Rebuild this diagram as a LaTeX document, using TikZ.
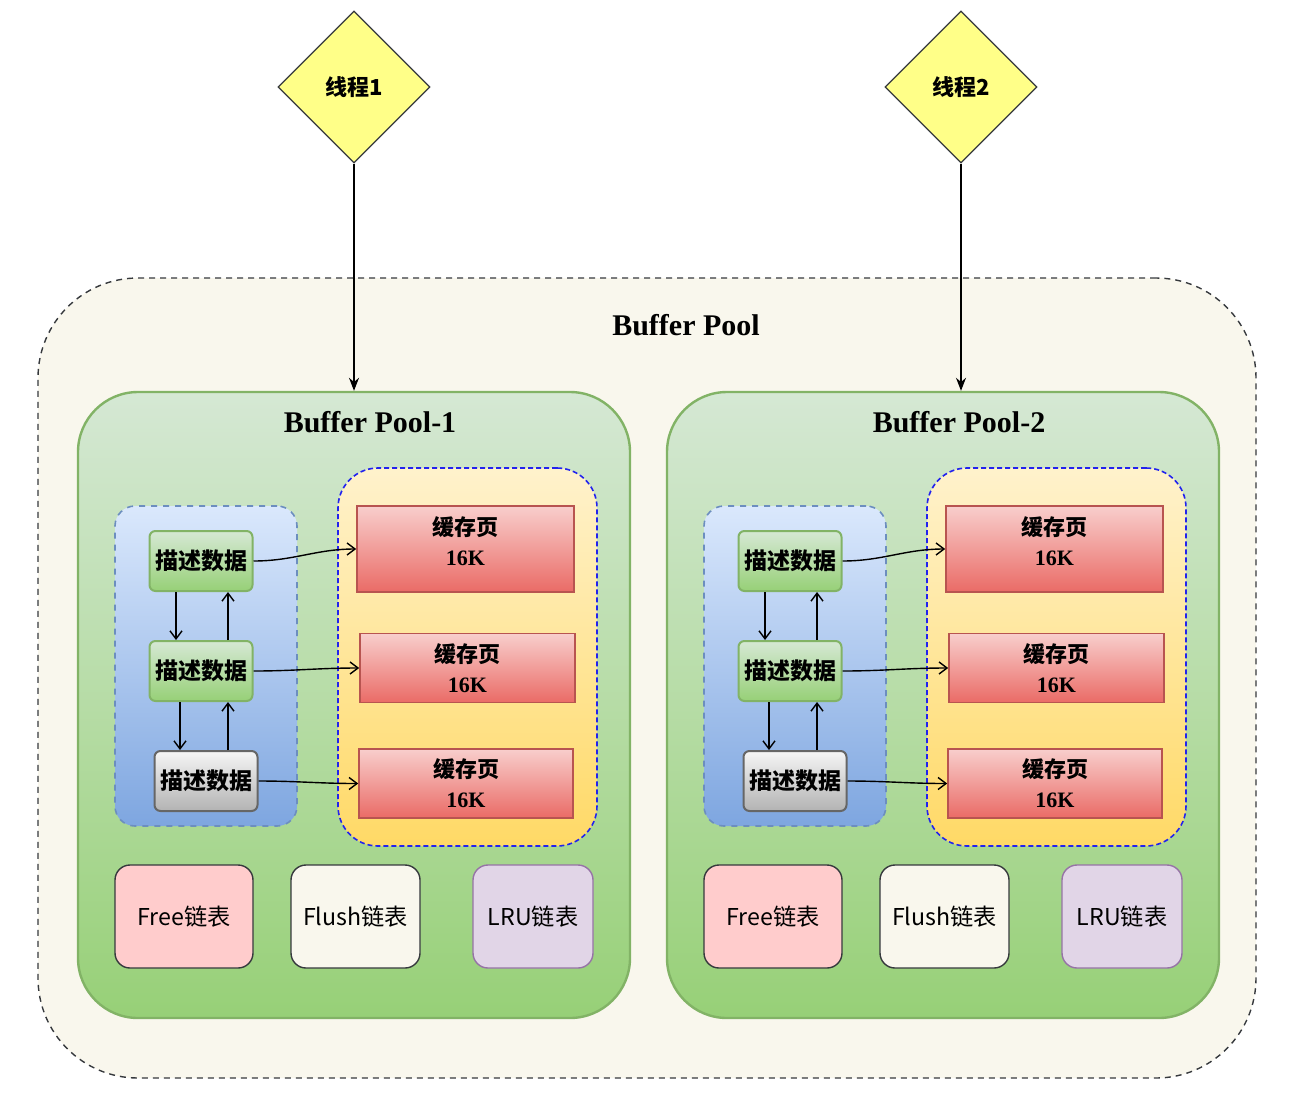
\documentclass[tikz,border=0pt]{standalone}
\usepackage{fontspec}
\setmainfont{Liberation Serif}
\newfontfamily\cjk{Noto Sans CJK SC}
\usetikzlibrary{shapes.geometric,arrows.meta,shadings}

\definecolor{bpfill}{HTML}{F9F7ED}
\definecolor{darkline}{HTML}{36393D}
\definecolor{thfill}{HTML}{FFFF88}
\definecolor{grtop}{HTML}{D5E8D4}
\definecolor{grbot}{HTML}{97D077}
\definecolor{grline}{HTML}{82B366}
\definecolor{bltop}{HTML}{DAE8FC}
\definecolor{blbot}{HTML}{7EA6E0}
\definecolor{blline}{HTML}{6C8EBF}
\definecolor{yetop}{HTML}{FFF2CC}
\definecolor{yebot}{HTML}{FFD966}
\definecolor{yeline}{HTML}{2222EE}
\definecolor{retop}{HTML}{F8CECC}
\definecolor{rebot}{HTML}{EA6B66}
\definecolor{reline}{HTML}{B85450}
\definecolor{gytop}{HTML}{F5F5F5}
\definecolor{gybot}{HTML}{B3B3B3}
\definecolor{gyline}{HTML}{666666}
\definecolor{freefill}{HTML}{FFCCCC}
\definecolor{lrufill}{HTML}{E1D5E7}
\definecolor{lruline}{HTML}{9673A6}

\tikzset{
  box/.style={draw,rectangle,inner sep=0pt,align=center},
  title/.style={font=\bfseries\fontsize{15}{18}\selectfont},
  thread/.style={diamond,draw=darkline,fill=thfill,line width=0.6pt,
    minimum width=76pt,minimum height=76pt,inner sep=0pt,
    font=\cjk\bfseries\fontsize{11}{13}\selectfont},
  tip/.style={-{Stealth[length=6.5pt,width=5pt]},line width=0.6pt},
  barb/.style={-{Straight Barb[length=4pt,width=6pt]},line width=0.7pt},
  desc/.style={box,rounded corners=3pt,line width=1pt,draw=grline,top color=grtop,bottom color=grbot,
    minimum width=51.5pt,minimum height=30pt,font=\cjk\bfseries\fontsize{11.5}{14}\selectfont},
  page/.style={box,line width=0.8pt,draw=reline,top color=retop,bottom color=rebot,
    font=\fontsize{11}{15}\selectfont},
  list/.style={box,rounded corners=7.5pt,line width=0.7pt,draw=darkline,
    minimum height=51.5pt,font=\cjk\fontsize{11.6}{13}\selectfont},
}

\begin{document}
\begin{tikzpicture}[x=0.5pt,y=-0.5pt]
\useasboundingbox (0,0) rectangle (1290,1104);
\node[box,rounded corners=50pt,draw=darkline,fill=bpfill,line width=0.7pt,dash pattern=on 3pt off 2.5pt,
  minimum width=609pt,minimum height=400pt] (bp) at (647,678) {};
\node[title] (bptitle) at (686,325) {Buffer Pool};
\node[thread] (t1) at (354,87) {线程1};
\node[thread] (t2) at (961,87) {线程2};

\foreach \p/\dx in {1/0,2/589}{
  \begin{scope}[shift={(\dx,0)}]
    \node[box,rounded corners=30pt,line width=1.2pt,draw=grline,top color=grtop,bottom color=grbot,
      minimum width=276pt,minimum height=313pt] (pool\p) at (354,705) {};
    \node[title] (ptitle\p) at (370,422) {Buffer Pool-\p};
    % descriptor group and cache pages
    \node[box,rounded corners=10pt,dashed,line width=0.8pt,draw=blline,top color=bltop,bottom color=blbot,
      minimum width=91pt,minimum height=160pt] (descs\p) at (206,666) {};
    \node[box,rounded corners=20pt,line width=0.8pt,draw=yeline,dash pattern=on 2.5pt off 1.5pt,
      top color=yetop,bottom color=yebot,minimum width=129.5pt,minimum height=189pt] (pages\p) at (467.5,657) {};
    \node[desc] (da\p) at (201,561) {描述数据};
    \node[desc] (db\p) at (201,671) {描述数据};
    \node[desc,draw=gyline,top color=gytop,bottom color=gybot] (dc\p) at (206,781) {描述数据};
    \node[page,text depth=8pt,minimum width=108.5pt,minimum height=43pt] (pa\p) at (465.5,549) {{\cjk\bfseries 缓存页}\\\textbf{16K}};
    \node[page,minimum width=107.5pt,minimum height=34.5pt] (pb\p) at (467.5,668) {{\cjk\bfseries 缓存页}\\\textbf{16K}};
    \node[page,minimum width=107pt,minimum height=34.5pt] (pc\p) at (466,783.5) {{\cjk\bfseries 缓存页}\\\textbf{16K}};
    \draw[barb] ([xshift=-12.5pt]da\p.south) -- ([xshift=-12.5pt]da\p.south |- db\p.north);
    \draw[barb] ([xshift=13.5pt]da\p.south |- db\p.north) -- ([xshift=13.5pt]da\p.south);
    \draw[barb] ([xshift=-10.5pt]db\p.south) -- ([xshift=-10.5pt]db\p.south |- dc\p.north);
    \draw[barb] ([xshift=13.5pt]db\p.south |- dc\p.north) -- ([xshift=13.5pt]db\p.south);
    \draw[barb] (da\p.east) to[out=0,in=180] (pa\p.west);
    \draw[barb] (db\p.east) to[out=0,in=180] (pb\p.west);
    \draw[barb] (dc\p.east) to[out=0,in=180] (pc\p.west);
    % lists
    \node[list,fill=freefill,minimum width=69pt] (free\p) at (184,916.5) {Free链表};
    \node[list,fill=bpfill,minimum width=64.5pt] (flush\p) at (355.5,916.5) {Flush链表};
    \node[list,fill=lrufill,draw=lruline,minimum width=60pt] (lru\p) at (533,916.5) {LRU链表};
  \end{scope}
}

\draw[tip] (t1.south) -- (t1.south |- pool1.north);
\draw[tip] (t2.south) -- (t2.south |- pool2.north);
\end{tikzpicture}
\end{document}
